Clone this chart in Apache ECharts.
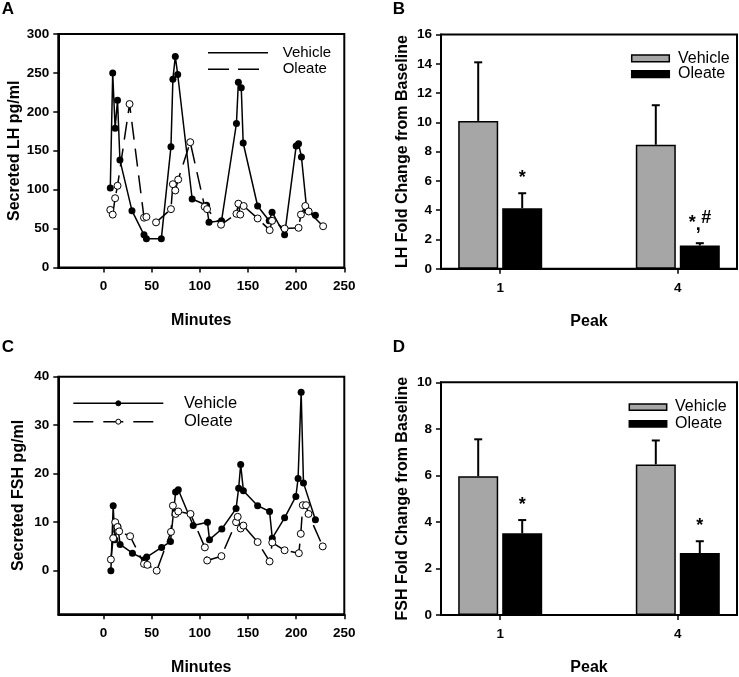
<!DOCTYPE html>
<html><head><meta charset="utf-8">
<script src="https://cdn.jsdelivr.net/npm/echarts@6/dist/echarts.min.js"></script>
<style>html,body{margin:0;padding:0;background:#fff}#c{width:739px;height:677px}</style>
</head><body><div id="c"></div>
<script>
// ---------- data ----------
const minuteTicks = [0, 50, 100, 150, 200, 250];
const lhTicks = [0, 50, 100, 150, 200, 250, 300];
const fshTicks = [0, 10, 20, 30, 40];
const peakTicks = [1, 4];

// Panel A: secreted LH (pg/ml) vs minutes
const lhVehicleMin = [7, 9.5, 12, 14.5, 17, 29.5, 42, 44.5, 60, 70, 72, 74.5, 77, 92, 107, 109.5, 122.5, 138, 140, 143, 145, 160, 172, 175, 188, 200, 202.5, 205.5, 211, 220];
const lhVehicleVal = [102, 250, 179, 215, 138, 73, 42, 37, 37, 155, 242, 271, 248, 88, 80, 58, 60, 185, 238, 231, 160, 79, 60, 71, 42, 156, 159, 142, 74, 67];
const lhOleateMin = [7, 9.5, 12, 14.5, 27, 42, 44.5, 54.5, 70, 72, 74.5, 77.5, 90, 105, 107.5, 122, 138, 140, 142, 145.5, 160, 172.5, 175, 188, 202.5, 205, 209.5, 213, 228];
const lhOleateVal = [74, 68, 89, 105, 210, 64, 65, 58, 75, 107, 99, 113, 161, 78, 75, 55, 69, 82, 68, 79, 63, 48, 60, 50, 51, 68, 79, 72, 53];

// Panel C: secreted FSH (pg/ml) vs minutes
const fshVehicleMin = [7.6, 10, 11.7, 14.8, 17.2, 30, 42.8, 44.8, 60.3, 69.5, 74.8, 77.6, 93.1, 107.9, 110, 122.8, 137.6, 140.3, 142.4, 145.2, 160, 172.4, 175.2, 188, 199.7, 202, 205.2, 207.6, 220];
const fshVehicleVal = [0, 13.4, 6.4, 9.1, 5.4, 3.6, 2.3, 2.8, 4.8, 6.0, 16.2, 16.7, 9.3, 10, 6.4, 8.6, 12.8, 17, 21.9, 16.5, 13.4, 12.2, 6.7, 10.9, 15.3, 19, 36.8, 18.1, 10.5];
const fshOleateMin = [7.6, 10, 12.1, 14.5, 16.2, 27.6, 42, 45.5, 55.2, 70, 72, 74.8, 77.6, 90.3, 105.2, 107.6, 122.4, 137.6, 139.3, 142.4, 145.2, 160, 172.4, 175.2, 188, 202.8, 204.8, 206.9, 210.3, 212.8, 227.6];
const fshOleateVal = [2.3, 6.7, 10, 9, 8.1, 7.1, 1.4, 1.2, 0, 8, 13.4, 11.7, 12.2, 11.7, 4.8, 2.1, 3, 10, 11.1, 8.7, 9.3, 5.9, 1.9, 5.8, 4.2, 3.6, 7.6, 13.5, 13.5, 11.7, 5];

// Panels B and D: fold change from baseline (mean, SEM)
const peaks = [1, 4];
const lhFoldVehicle = [10.1, 8.47];
const lhFoldVehicleSem = [4.0, 2.7];
const lhFoldOleate = [4.14, 1.59];
const lhFoldOleateSem = [1.02, 0.16];
const lhSig = ['*', '*,#'];
const fshFoldVehicle = [5.96, 6.47];
const fshFoldVehicleSem = [1.59, 1.03];
const fshFoldOleate = [3.51, 2.66];
const fshFoldOleateSem = [0.57, 0.51];
const fshSig = ['*', '*'];

// ---------- chart ----------
const FONT = 'Liberation Sans, Arial, sans-serif';
const pairs = (xs, ys) => xs.map((x, i) => [x, ys[i]]);
const axisLine = {show: true, onZero: false, lineStyle: {color: '#000', width: 2}};
const tickLab = {color: '#000', fontFamily: FONT, fontWeight: 'bold', fontSize: 13.5};
const nameStyle = {color: '#000', fontFamily: FONT, fontWeight: 'bold', fontSize: 16};

function xTime(gi) {
  return {gridIndex: gi, type: 'value', min: -47, max: 250,
    axisLine, splitLine: {show: false},
    axisTick: {show: true, customValues: minuteTicks, length: 5, lineStyle: {color: '#000', width: 1.5}},
    axisLabel: Object.assign({customValues: minuteTicks, margin: 12}, tickLab),
    name: 'Minutes', nameLocation: 'middle', nameGap: 45, nameTextStyle: nameStyle};
}
function xPeak(gi) {
  return {gridIndex: gi, type: 'value', min: 0, max: 5,
    axisLine, splitLine: {show: false},
    axisTick: {show: true, customValues: peakTicks, length: 5, lineStyle: {color: '#000', width: 1.5}},
    axisLabel: Object.assign({customValues: peakTicks, margin: 12}, tickLab),
    name: 'Peak', nameLocation: 'middle', nameGap: 45, nameTextStyle: nameStyle};
}
function yAx(gi, min, max, ticks, name, gap) {
  return {gridIndex: gi, type: 'value', min, max,
    axisLine, splitLine: {show: false},
    axisTick: {show: true, customValues: ticks, length: 5, lineStyle: {color: '#000', width: 1.5}},
    axisLabel: Object.assign({customValues: ticks, margin: 9}, tickLab),
    name, nameLocation: 'middle', nameGap: gap, nameTextStyle: nameStyle};
}
function lineS(gi, name, xs, ys, open) {
  return {type: 'line', name, xAxisIndex: gi, yAxisIndex: gi, data: pairs(xs, ys),
    symbol: 'circle', symbolSize: 7, showAllSymbol: true,
    lineStyle: {color: '#000', width: 1.5, type: open ? [18, 9] : 'solid'},
    itemStyle: open ? {color: '#fff', borderColor: '#000', borderWidth: 1} : {color: '#000', borderColor: '#000', borderWidth: 0},
    z: open ? 3 : 2};
}
function barS(gi, name, means, color) {
  return {type: 'bar', name, xAxisIndex: gi, yAxisIndex: gi, data: pairs(peaks, means),
    barWidth: 40, barGap: '10%',
    itemStyle: {color, borderColor: '#000', borderWidth: 1.5}};
}
function errS(gi, means, sems, off) {
  return {type: 'custom', xAxisIndex: gi, yAxisIndex: gi, silent: true, z: 4,
    data: peaks.map((x, i) => [x, means[i], sems[i]]),
    renderItem(params, api) {
      const x = api.value(0), m = api.value(1), e = api.value(2);
      const b = api.coord([x, m]), t = api.coord([x, m + e]);
      const px = b[0] + off;
      return {type: 'group', children: [
        {type: 'line', shape: {x1: px, y1: b[1], x2: px, y2: t[1]}, style: {stroke: '#000', lineWidth: 2}},
        {type: 'line', shape: {x1: px - 4, y1: t[1], x2: px + 4, y2: t[1]}, style: {stroke: '#000', lineWidth: 2}}
      ]};
    }};
}
function sigS(gi, means, sems, labels, off) {
  return {type: 'custom', xAxisIndex: gi, yAxisIndex: gi, silent: true, z: 5,
    data: peaks.map((x, i) => [x, means[i] + sems[i]]),
    renderItem(params, api) {
      const p = api.coord([api.value(0), api.value(1)]);
      const px = p[0] + off, py = p[1];
      const lab = labels[params.dataIndex];
      const st = (txt, x, y) => ({type: 'text', x, y, style: {text: txt, fill: '#000', font: 'bold 18px ' + FONT, align: 'center', verticalAlign: 'middle'}});
      const parts = lab.split(',');
      if (parts.length === 1) return st(lab, px, py - 15);
      return {type: 'group', children: [st(parts[0], px - 7.5, py - 20), st(',', px - 1.5, py - 18), st(parts[1], px + 6.5, py - 25)]};
    }};
}

const txt = (text, x, y, size, weight, align) => ({type: 'text', x, y, style: {text, fill: '#000', font: (weight || 'normal') + ' ' + size + 'px ' + FONT, align: align || 'left', verticalAlign: 'middle'}});
const ln = (x1, y1, x2, y2, dash) => ({type: 'line', shape: {x1, y1, x2, y2}, style: {stroke: '#000', lineWidth: 1.5, lineDash: dash || null}});
const dot = (cx, cy, r, fill) => ({type: 'circle', shape: {cx, cy, r}, style: {fill, stroke: '#000', lineWidth: 1}});
const box = (x, y, w, h, fill) => ({type: 'rect', shape: {x, y, width: w, height: h}, style: {fill, stroke: '#000', lineWidth: 1.5}});

const option = {
  animation: false,
  backgroundColor: '#fff',
  grid: [
    {left: 58.3, top: 34, width: 286, height: 233.5, show: true, borderColor: '#000', borderWidth: 2},
    {left: 441, top: 34.5, width: 296, height: 234.3, show: true, borderColor: '#000', borderWidth: 2},
    {left: 58.3, top: 376.7, width: 286, height: 237.6, show: true, borderColor: '#000', borderWidth: 2},
    {left: 441, top: 382.3, width: 296, height: 234.4, show: true, borderColor: '#000', borderWidth: 2}
  ],
  xAxis: [xTime(0), xPeak(1), xTime(2), xPeak(3)],
  yAxis: [
    yAx(0, 0, 300, lhTicks, 'Secreted LH pg/ml', 32),
    yAx(1, 0, 16, [0, 2, 4, 6, 8, 10, 12, 14, 16], 'LH Fold Change from Baseline', 30),
    yAx(2, -9, 40, fshTicks, 'Secreted FSH pg/ml', 32),
    yAx(3, 0, 10, [0, 2, 4, 6, 8, 10], 'FSH Fold Change from Baseline', 30)
  ],
  series: [
    lineS(0, 'Vehicle', lhVehicleMin, lhVehicleVal, false),
    lineS(0, 'Oleate', lhOleateMin, lhOleateVal, true),
    lineS(2, 'Vehicle', fshVehicleMin, fshVehicleVal, false),
    lineS(2, 'Oleate', fshOleateMin, fshOleateVal, true),
    barS(1, 'Vehicle', lhFoldVehicle, '#a6a6a6'),
    barS(1, 'Oleate', lhFoldOleate, '#000'),
    errS(1, lhFoldVehicle, lhFoldVehicleSem, -22),
    errS(1, lhFoldOleate, lhFoldOleateSem, 22),
    sigS(1, lhFoldOleate, lhFoldOleateSem, lhSig, 22),
    barS(3, 'Vehicle', fshFoldVehicle, '#a6a6a6'),
    barS(3, 'Oleate', fshFoldOleate, '#000'),
    errS(3, fshFoldVehicle, fshFoldVehicleSem, -22),
    errS(3, fshFoldOleate, fshFoldOleateSem, 22),
    sigS(3, fshFoldOleate, fshFoldOleateSem, fshSig, 22)
  ],
  graphic: [
    // panel letters
    txt('A', 8, 9, 17, 'bold', 'center'),
    txt('B', 399, 9, 17, 'bold', 'center'),
    txt('C', 8, 347, 17, 'bold', 'center'),
    txt('D', 399, 347, 17, 'bold', 'center'),
    // legend A
    ln(208, 52.7, 268, 52.7), ln(208, 69.3, 260, 69.3, [21, 9]),
    txt('Vehicle', 282.7, 52.7, 15), txt('Oleate', 282.7, 69.3, 15),
    // legend C
    ln(73.3, 403.3, 163.3, 403.3), dot(118.3, 403.3, 2.5, '#000'),
    ln(73.3, 421.7, 155, 421.7, [20, 10]), dot(118.3, 421.7, 2.5, '#fff'),
    txt('Vehicle', 184, 403.3, 16.5), txt('Oleate', 184, 421.7, 16.5),
    // legend B
    box(631.7, 55, 37.6, 6.7, '#a6a6a6'), box(631.7, 70.7, 37.6, 6.7, '#000'),
    txt('Vehicle', 678, 58.3, 16), txt('Oleate', 678, 74, 16),
    // legend D
    box(629.3, 404, 37.4, 6.3, '#a6a6a6'), box(629.3, 420.7, 37.4, 6.3, '#000'),
    txt('Vehicle', 675, 406.7, 16), txt('Oleate', 675, 424, 16)
  ]
};
const chart = echarts.init(document.getElementById('c'), null, {renderer: 'canvas'});
chart.setOption(option);
</script></body></html>
